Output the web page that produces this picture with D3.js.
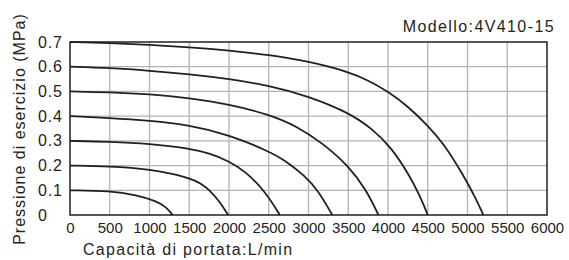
<!DOCTYPE html>
<html>
<head>
<meta charset="utf-8">
<script src="https://cdn.jsdelivr.net/npm/d3@7"></script>
<style>
  body { margin: 0; background: #fff; }
  svg { display: block; font-family: "Liberation Sans", Arial, sans-serif; }
</style>
</head>
<body>
<svg id="chart" width="569" height="260"></svg>
<script>

// 目盛り
const xTicks = [0, 500, 1000, 1500, 2000, 2500, 3000, 3500, 4000, 4500, 5000, 5500, 6000];
const yTicks = [0, 0.1, 0.2, 0.3, 0.4, 0.5, 0.6, 0.7];

// 各圧力ごとの流量曲線 [L/min, MPa]
const curve01 = [[0, 0.1], [500, 0.098], [840, 0.081], [1090, 0.056], [1210, 0.032], [1290, 0]];
const curve02 = [[0, 0.2], [500, 0.197], [1000, 0.186], [1500, 0.152], [1650, 0.127], [1760, 0.1], [1880, 0.055], [1990, 0]];
const curve03 = [[0, 0.3], [500, 0.297], [1000, 0.289], [1500, 0.27], [1750, 0.25], [2000, 0.218], [2200, 0.178], [2450, 0.098], [2640, 0]];
const curve04 = [[0, 0.4], [500, 0.393], [1000, 0.382], [1500, 0.364], [2000, 0.325], [2500, 0.258], [2700, 0.222], [2950, 0.16], [3120, 0.1], [3300, 0]];
const curve05 = [[0, 0.5], [500, 0.497], [1000, 0.489], [1500, 0.473], [2000, 0.448], [2500, 0.407], [2850, 0.36], [3180, 0.29], [3500, 0.2], [3730, 0.1], [3880, 0]];
const curve06 = [[0, 0.6], [500, 0.595], [1000, 0.584], [1500, 0.57], [2000, 0.551], [2500, 0.524], [3000, 0.481], [3500, 0.415], [3800, 0.35], [4050, 0.27], [4250, 0.17], [4400, 0.08], [4500, 0]];
const curve07 = [[0, 0.7], [500, 0.696], [1000, 0.689], [1500, 0.679], [2000, 0.666], [2500, 0.648], [3000, 0.622], [3500, 0.58], [3750, 0.545], [4000, 0.5], [4250, 0.44], [4500, 0.362], [4700, 0.29], [4950, 0.16], [5100, 0.07], [5200, 0]];
const curves = [curve01, curve02, curve03, curve04, curve05, curve06, curve07];

// テキスト
const modelLabel = "Modello:4V410-15";
const xTitle = "Capacità di portata:L/min";
const yTitle = "Pressione di esercizio (MPa)";

const svg = d3.select("#chart");
const margin = {top: 42, right: 22, bottom: 45, left: 70};
const width = +svg.attr("width");
const height = +svg.attr("height");

const x = d3.scaleLinear().domain([0, 6000])
  .range([margin.left, width - margin.right]);
const y = d3.scaleLinear().domain([0, 0.7])
  .range([height - margin.bottom, margin.top]);

// 罫線
const grid = svg.append("g").attr("class", "grid");
grid.selectAll("line.gx")
  .data(xTicks.slice(1, -1))
  .join("line")
  .attr("x1", d => x(d)).attr("x2", d => x(d))
  .attr("y1", y(0)).attr("y2", y(0.7));
grid.selectAll("line.gy")
  .data(yTicks.slice(1, -1))
  .join("line")
  .attr("x1", x(0)).attr("x2", x(6000))
  .attr("y1", d => y(d)).attr("y2", d => y(d));
grid.selectAll("line")
  .style("stroke", "#b3b3b3")
  .style("stroke-width", "1.3px");

// 枠
svg.append("rect")
  .attr("x", x(0)).attr("y", y(0.7))
  .attr("width", x(6000) - x(0))
  .attr("height", y(0) - y(0.7))
  .style("fill", "none")
  .style("stroke", "#231f20")
  .style("stroke-width", "1.5px");

// x 軸の目盛り
const xAxis = svg.append("g")
  .attr("transform", `translate(0,${y(0)})`)
  .call(d3.axisBottom(x).tickValues(xTicks).tickSize(0).tickPadding(18).tickFormat(d => d));
xAxis.select("path").remove();
xAxis.selectAll("text")
  .attr("dy", 0)
  .style("font-family", '"Liberation Sans Narrow", "Arial Narrow", sans-serif')
  .style("font-size", "15px")
  .style("fill", "#231f20");

// y 軸の目盛り (左揃え)
svg.append("g").selectAll("text")
  .data(yTicks)
  .join("text")
  .attr("x", 38)
  .attr("y", d => y(d) + 5.5)
  .text(d => d)
  .style("font-size", "16px")
  .style("letter-spacing", "0.8px")
  .style("fill", "#231f20");

// 曲線 (読み取り誤差をならすため B スプライン)
const line = d3.line()
  .x(d => x(d[0]))
  .y(d => y(d[1]))
  .curve(d3.curveBasis);
svg.append("g").selectAll("path")
  .data(curves)
  .join("path")
  .attr("d", line)
  .style("fill", "none")
  .style("stroke", "#231f20")
  .style("stroke-width", "1.8px");

// ラベル
svg.append("text")
  .attr("x", 555).attr("y", 32)
  .attr("text-anchor", "end")
  .text(modelLabel)
  .style("font-size", "16px")
  .style("letter-spacing", "1.4px")
  .style("fill", "#231f20");

svg.append("text")
  .attr("x", 83).attr("y", 255)
  .text(xTitle)
  .style("font-size", "16px")
  .style("letter-spacing", "1.3px")
  .style("fill", "#231f20");

svg.append("text")
  .attr("transform", "translate(25,129) rotate(-90)")
  .attr("text-anchor", "middle")
  .text(yTitle)
  .style("font-size", "16px")
  .style("letter-spacing", "1px")
  .style("fill", "#231f20");

</script>
</body>
</html>
